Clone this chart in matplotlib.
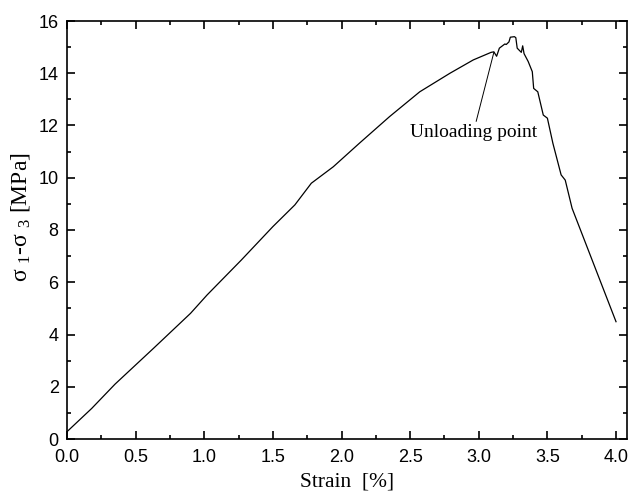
import matplotlib
matplotlib.use("Agg")
import matplotlib.pyplot as plt
from matplotlib.ticker import MultipleLocator

strain = [0.00, 0.18, 0.35, 0.63, 0.90, 1.02, 1.27, 1.50, 1.66, 1.78, 1.94, 2.13,
          2.35, 2.57, 2.79, 2.96, 3.09, 3.11, 3.13, 3.15, 3.19, 3.20, 3.22, 3.23,
          3.26, 3.27, 3.28, 3.31, 3.32, 3.33, 3.36, 3.39, 3.40, 3.43, 3.47, 3.50,
          3.54, 3.60, 3.63, 3.68, 4.00]
stress = [0.28, 1.17, 2.10, 3.47, 4.81, 5.51, 6.85, 8.13, 8.96, 9.79, 10.42, 11.32,
          12.34, 13.29, 14.00, 14.51, 14.80, 14.82, 14.65, 14.96, 15.12, 15.10, 15.20, 15.38,
          15.40, 15.36, 14.96, 14.80, 15.05, 14.75, 14.45, 14.06, 13.42, 13.29, 12.40, 12.28,
          11.32, 10.11, 9.91, 8.83, 4.49]

annot_text = "Unloading point"
annot_xy = (3.11, 14.80)
annot_text_xy = (2.96, 12.05)

plt.rcParams['mathtext.fontset'] = 'custom'
plt.rcParams['mathtext.rm'] = 'Liberation Serif'
plt.rcParams['mathtext.it'] = 'Liberation Serif'

fig = plt.figure(figsize=(6.3, 4.94), dpi=100)
ax = fig.add_axes([67/630, 55/494, 560/630, 418/494])

ax.plot(strain, stress, color='black', lw=0.9)

ax.set_xlim(0, 4.08)
ax.set_ylim(0, 16)
ax.xaxis.set_major_locator(MultipleLocator(0.5))
ax.xaxis.set_minor_locator(MultipleLocator(0.25))
ax.yaxis.set_major_locator(MultipleLocator(2))
ax.yaxis.set_minor_locator(MultipleLocator(1))
ax.xaxis.set_major_formatter(matplotlib.ticker.FormatStrFormatter('%.1f'))

ax.tick_params(which='both', direction='in', top=True, right=True, width=1.2)
ax.tick_params(which='major', length=6)
ax.tick_params(axis='x', which='major', pad=7)
ax.tick_params(axis='y', which='major', pad=6)
ax.tick_params(which='minor', length=3)
for lab in ax.get_xticklabels() + ax.get_yticklabels():
    lab.set_fontfamily('Liberation Sans')
    lab.set_fontsize(13)
for s in ax.spines.values():
    s.set_linewidth(1.2)

ax.set_xlabel('Strain  [%]', fontfamily='Liberation Serif', fontsize=15.5, labelpad=5)
ax.set_ylabel(r'σ $_{\mathrm{1}}$-σ $_{\mathrm{3}}$ [MPa]', fontfamily='Liberation Serif',
              fontsize=17)
ax.yaxis.set_label_coords(-0.062, 0.53)

ax.annotate(annot_text, xy=annot_xy, xytext=annot_text_xy,
            fontfamily='Liberation Serif', fontsize=14, ha='center', va='top',
            arrowprops=dict(arrowstyle='-', color='black', lw=0.7, shrinkA=0, shrinkB=0))

fig.savefig('out.png', dpi=100)
